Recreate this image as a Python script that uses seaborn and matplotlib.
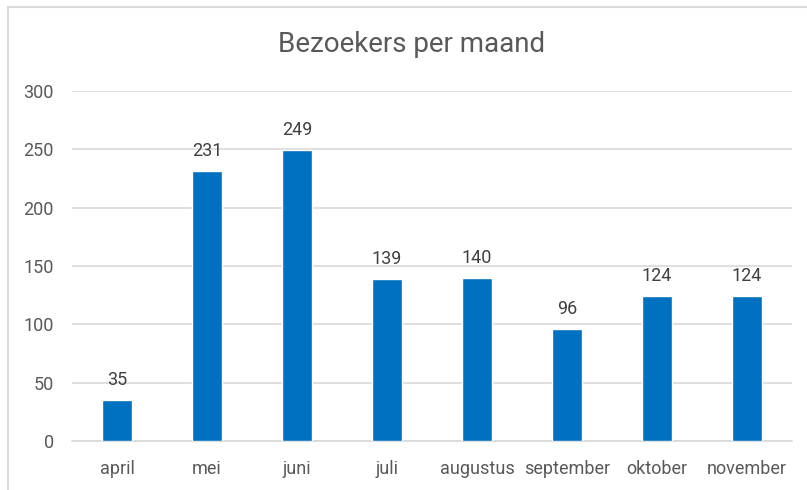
import matplotlib
matplotlib.use("Agg")
import matplotlib.pyplot as plt
import seaborn as sns
import pandas as pd
from matplotlib.patches import Rectangle

months = ["april", "mei", "juni", "juli", "augustus", "september", "oktober", "november"]
visitors = [35, 231, 249, 139, 140, 96, 124, 124]
yticks = [0, 50, 100, 150, 200, 250, 300]

df = pd.DataFrame({"maand": months, "bezoekers": visitors})

sns.set_theme(style="white")
plt.rcParams['font.family'] = ['Roboto', 'DejaVu Sans']

W, H = 807, 490
fig = plt.figure(figsize=(W / 100, H / 100), dpi=100)
ax = fig.add_axes([72 / W, (H - 441) / H, (792 - 72) / W, (441 - 91) / H])

sns.barplot(data=df, x="maand", y="bezoekers", color="#0070C0", width=0.333,
            saturation=1, ax=ax, zorder=3)

ax.set_ylim(0, 300)
ax.set_xlim(-0.5, len(months) - 0.5)
ax.set_yticks(yticks)
ax.yaxis.grid(True, color="#D9D9D9", linewidth=1.2, zorder=0)
ax.set_axisbelow(True)
for s in ["top", "right", "left"]:
    ax.spines[s].set_visible(False)
ax.spines["bottom"].set_color("#D9D9D9")
ax.spines["bottom"].set_linewidth(1.2)
ax.set_xlabel("")
ax.set_ylabel("")
ax.tick_params(axis="both", length=0, labelsize=13, labelcolor="#595959")
ax.tick_params(axis="y", pad=13)
ax.tick_params(axis="x", pad=14)

for cont in ax.containers:
    ax.bar_label(cont, labels=[str(v) for v in visitors], padding=8,
                 fontsize=13, color="#404040")

fig.text(412 / W, 1 - 45 / H, "Bezoekers per maand", ha="center", va="center",
         fontsize=20, color="#595959")

fig.patches.append(Rectangle((8 / W, -0.1), 1.2, 1 - 7 / H + 0.1, transform=fig.transFigure,
                             fill=False, edgecolor="#D9D9D9", linewidth=1.5))

fig.savefig("out.png", dpi=100)
